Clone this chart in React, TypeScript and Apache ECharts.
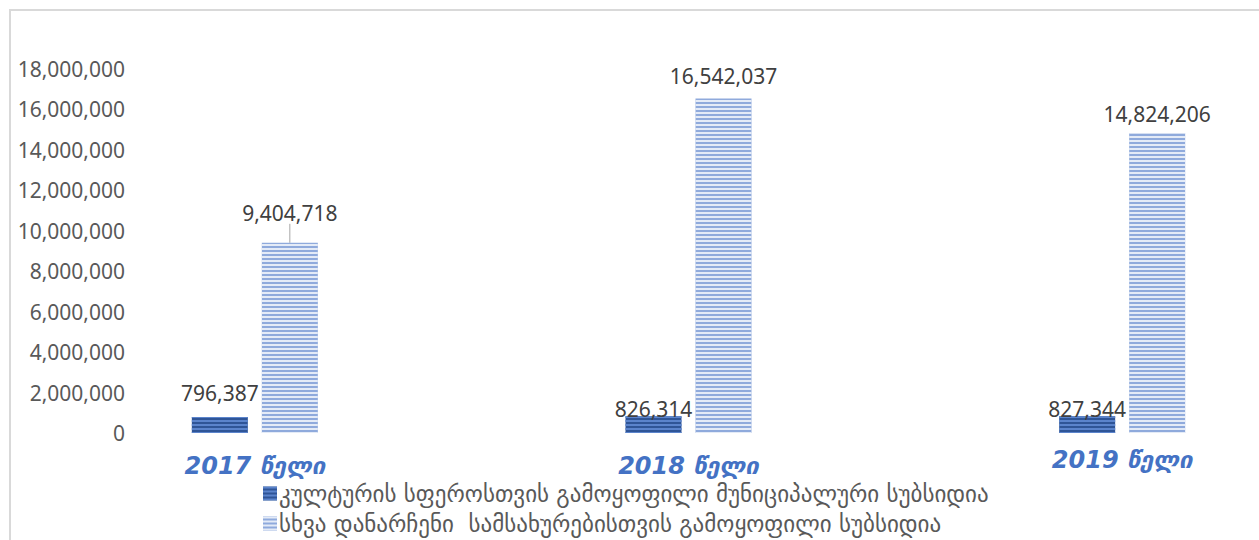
import React, { useEffect, useRef } from "react";
import * as echarts from "echarts";

const categories = ["2017 წელი", "2018 წელი", "2019 წელი"];
const seriesNames = [
  "კულტურის სფეროსთვის გამოყოფილი მუნიციპალური სუბსიდია",
  "სხვა დანარჩენი  სამსახურებისთვის გამოყოფილი სუბსიდია",
];
const cultureValues = [796387, 826314, 827344];
const otherValues = [9404718, 16542037, 14824206];
const yTicks = { min: 0, max: 18000000, interval: 2000000 };

const fmt = (v: number) => v.toLocaleString("en-US");

export default function App() {
  const ref = useRef<HTMLDivElement>(null);
  useEffect(() => {
    if (!ref.current) return;
    const chart = echarts.init(ref.current, null, { renderer: "svg" });
    const font = "'Noto Sans', 'DejaVu Sans', sans-serif";
    const darkDistances = [13, -3, -3];
    const lightDistances = [10, 12, 9];
    chart.setOption({
      animation: false,
      backgroundColor: "#ffffff",
      textStyle: { fontFamily: font },
      graphic: [
        {
          type: "rect",
          shape: { x: 10, y: 10, width: 1400, height: 600 },
          style: { fill: "none", stroke: "#D9D9D9", lineWidth: 2 },
          silent: true,
        },
      ],
      grid: { left: 38, right: 1, top: 69, bottom: 107, containLabel: false },
      legend: {
        type: "plain",
        orient: "vertical",
        left: 258,
        top: 477,
        height: 80,
        itemWidth: 14,
        itemHeight: 14,
        itemGap: 7,
        icon: "rect",
        textStyle: {
          fontSize: 23,
          lineHeight: 23,
          color: "#595959",
          fontFamily: "'DejaVu Sans', sans-serif",
          padding: [0, 0, 0, -3],
        },
        data: seriesNames,
      },
      xAxis: {
        type: "category",
        data: categories.map((c, i) =>
          i === 2 ? { value: c, textStyle: { lineHeight: 12 } } : c
        ),
        axisLine: { show: false },
        axisTick: { show: false },
        axisLabel: {
          margin: 21,
          fontSize: 24,
          fontWeight: "bold",
          fontStyle: "italic",
          color: "#4472C4",
          fontFamily: "'DejaVu Sans', sans-serif",
        },
      },
      yAxis: {
        type: "value",
        min: yTicks.min,
        max: yTicks.max,
        interval: yTicks.interval,
        splitLine: { show: false },
        axisLine: { show: false },
        axisTick: { show: false },
        axisLabel: {
          margin: -87,
          fontSize: 21,
          color: "#595959",
          formatter: (v: number) => fmt(v),
        },
      },
      series: [
        {
          name: seriesNames[0],
          type: "bar",
          barWidth: 56,
          barGap: "25%",
          data: cultureValues.map((v, i) => ({
            value: v,
            label: { distance: darkDistances[i] },
          })),
          itemStyle: {
            color: "#2F5597",
            decal: {
              symbol: "rect",
              symbolSize: 1,
              dashArrayX: [1, 0],
              dashArrayY: [1.5, 1.8],
              rotation: 0,
              color: "#5B84CC",
            },
          },
          label: {
            show: true,
            position: "top",
            fontSize: 21,
            color: "#404040",
            formatter: (p: any) => fmt(p.value),
          },
        },
        {
          name: seriesNames[1],
          type: "bar",
          barWidth: 56,
          barGap: "25%",
          data: otherValues.map((v, i) => ({
            value: v,
            label: { distance: lightDistances[i] },
            labelLine: { show: i === 0 },
          })),
          itemStyle: {
            color: "#8FAADC",
            decal: {
              symbol: "rect",
              symbolSize: 1,
              dashArrayX: [1, 0],
              dashArrayY: [1.5, 1.8],
              rotation: 0,
              color: "#E4EBF7",
            },
          },
          label: {
            show: true,
            position: "top",
            fontSize: 21,
            color: "#404040",
            formatter: (p: any) => fmt(p.value),
          },
          labelLine: { show: false, lineStyle: { color: "#A6A6A6", width: 1 } },
          labelLayout: (params: any) =>
            params.dataIndex === 0 ? { dy: -9 } : {},
        },
      ],
    });
    return () => chart.dispose();
  }, []);
  return (
    <div
      style={{
        position: "fixed",
        left: 0,
        top: 0,
        width: 1259,
        height: 540,
        overflow: "hidden",
      }}
    >
      <div ref={ref} style={{ width: 1340, height: 540 }} />
    </div>
  );
}
